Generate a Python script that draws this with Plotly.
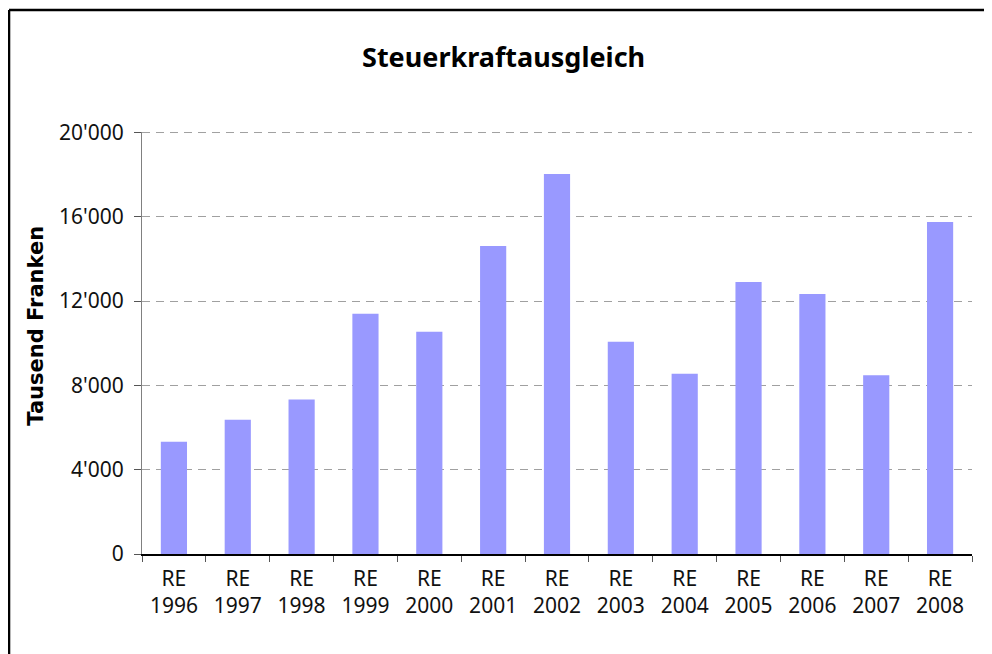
import plotly.graph_objects as go

# Daten
jahre = ['1996', '1997', '1998', '1999', '2000', '2001', '2002',
         '2003', '2004', '2005', '2006', '2007', '2008']
kategorien = ['RE<br>' + j for j in jahre]
werte = [5330, 6370, 7330, 11400, 10550, 14615, 18030,
         10070, 8557, 12910, 12340, 8479, 15750]
y_ticks = [0, 4000, 8000, 12000, 16000, 20000]
y_labels = ['0', "4'000", "8'000", "12'000", "16'000", "20'000"]

fig = go.Figure()
fig.add_trace(go.Bar(x=kategorien, y=werte, marker=dict(color='#9999FF', line=dict(width=0))))

# die Seite hat 8px Rand, daher Grafik etwas kleiner und nach links/oben verschoben
fig.update_layout(
    width=984, height=646,
    margin=dict(l=134, r=20, t=124, b=100),
    paper_bgcolor='white', plot_bgcolor='white',
    bargap=0.59,
    showlegend=False,
    font=dict(family='Noto Sans, Open Sans, sans-serif', size=21, color='#111111'),
)

fig.update_xaxes(
    showline=True, linecolor='black', linewidth=1.5,
    ticks='outside', tickson='boundaries', ticklen=6, tickcolor='#555555',
    tickfont=dict(size=21), ticklabelstandoff=5,
    showgrid=False,
)
fig.update_yaxes(
    range=[0, 20025], tickvals=y_ticks, ticktext=y_labels,
    showline=True, linecolor='#808080', linewidth=1,
    ticks='outside', ticklen=7, tickcolor='#555555',
    tickfont=dict(size=21), ticklabelstandoff=6,
    showgrid=True, gridcolor='#a0a0a0', gridwidth=1, griddash='8px,6px',
    zeroline=False,
)

# oberste Gitterlinie (wird von plotly am Rand weggelassen)
fig.add_shape(type='line', xref='paper', yref='y', x0=0, x1=1, y0=y_ticks[-1], y1=y_ticks[-1],
              line=dict(color='#a0a0a0', width=1, dash='8px,6px'), layer='below')

# Titel
fig.add_annotation(text='<b>Steuerkraftausgleich</b>', xref='paper', yref='paper',
                   x=0.436, y=1.178, xanchor='center', yanchor='middle', showarrow=False,
                   font=dict(family='Noto Sans, Open Sans, sans-serif', size=27, color='black'))
# Achsentitel
fig.add_annotation(text='<b>Tausend Franken</b>', xref='paper', yref='paper',
                   x=-0.127, y=0.54, xanchor='center', yanchor='middle', showarrow=False,
                   textangle=-90,
                   font=dict(family='DejaVu Sans, sans-serif', size=21, color='black'))

# Rahmen (nur links und oben sichtbar)
fig.add_shape(type='line', xref='paper', yref='paper', x0=-0.1602, x1=-0.1602, y0=-2, y1=1.289,
              line=dict(color='black', width=2.5))
fig.add_shape(type='line', xref='paper', yref='paper', x0=-0.1602, x1=2, y0=1.289, y1=1.289,
              line=dict(color='black', width=2.5))

fig.write_html("out.html")
